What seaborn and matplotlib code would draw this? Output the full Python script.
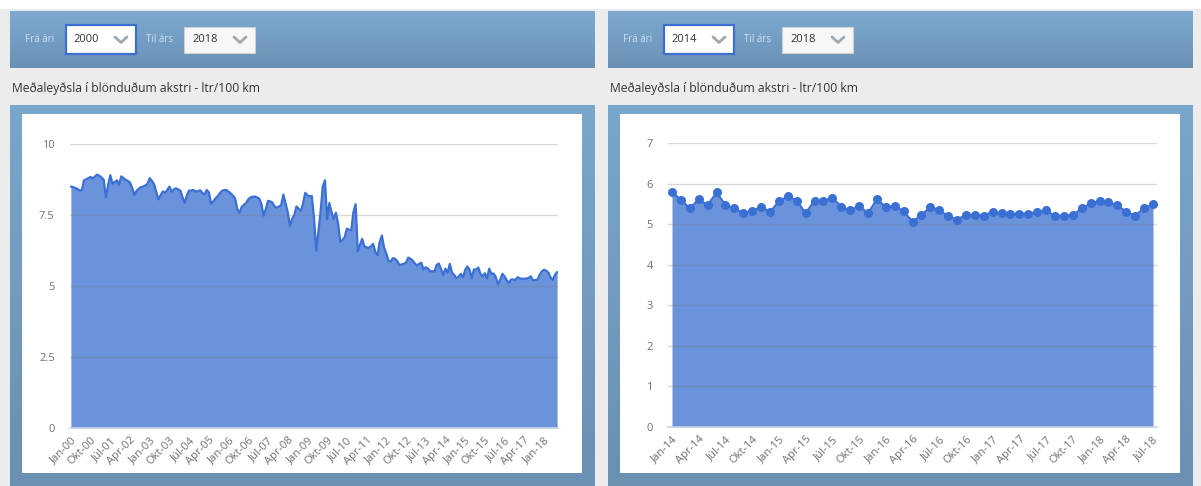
import numpy as np
import matplotlib
matplotlib.use("Agg")
import matplotlib.pyplot as plt
import seaborn as sns
from matplotlib.patches import Rectangle
from matplotlib.lines import Line2D
from matplotlib.colors import LinearSegmentedColormap

# Meðaleyðsla (ltr/100 km), monthly, Jan 2000 - Des 2013
vals_2000_2013 = [
    8.50, 8.48, 8.45, 8.42, 8.36, 8.38, 8.72, 8.76, 8.80, 8.84, 8.78, 8.86,
    8.92, 8.88, 8.82, 8.74, 8.12, 8.55, 8.90, 8.60, 8.66, 8.72, 8.56, 8.86,
    8.80, 8.74, 8.70, 8.64, 8.45, 8.20, 8.36, 8.42, 8.48, 8.50, 8.54, 8.60,
    8.80, 8.70, 8.58, 8.30, 8.05, 8.20, 8.33, 8.28, 8.38, 8.50, 8.32, 8.40,
    8.44, 8.40, 8.36, 8.12, 7.92, 8.20, 8.36, 8.36, 8.38, 8.32, 8.34, 8.37,
    8.28, 8.22, 8.38, 8.30, 7.90, 7.98, 8.08, 8.16, 8.26, 8.35, 8.38, 8.38,
    8.32, 8.26, 8.18, 8.08, 7.70, 7.58, 7.78, 7.86, 7.92, 8.05, 8.12, 8.14,
    8.15, 8.12, 8.08, 7.88, 7.48, 7.70, 8.00, 7.98, 7.94, 7.80, 7.76, 7.80,
    7.84, 8.22, 7.92, 7.60, 7.12, 7.35, 7.50, 7.80, 7.72, 7.64, 7.90, 8.28,
    8.20, 8.15, 8.17, 7.40, 6.25, 6.90, 7.60, 8.50, 8.72, 7.35, 7.92, 7.60,
    7.36, 7.58, 7.20, 6.55, 6.62, 6.72, 7.02, 6.98, 6.96, 7.60, 7.88, 6.22,
    6.45, 6.66, 6.40, 6.36, 6.34, 6.40, 6.48, 6.20, 6.08, 6.55, 6.78, 6.35,
    6.15, 5.88, 5.86, 5.98, 5.96, 5.88, 5.74, 5.76, 5.78, 5.82, 6.00, 5.96,
    5.90, 5.80, 5.72, 5.78, 5.82, 5.58, 5.66, 5.62, 5.52, 5.52, 5.50, 5.74,
]
# Jan 2014 - Júl 2018
vals_2014_2018 = [
    5.79, 5.60, 5.39, 5.61, 5.47, 5.78, 5.47, 5.39, 5.28, 5.32, 5.43, 5.30,
    5.56, 5.69, 5.58, 5.27, 5.58, 5.58, 5.65, 5.43, 5.34, 5.45, 5.27, 5.61,
    5.43, 5.44, 5.32, 5.06, 5.22, 5.43, 5.34, 5.20, 5.11, 5.23, 5.23, 5.21,
    5.31, 5.27, 5.25, 5.26, 5.26, 5.29, 5.34, 5.20, 5.21, 5.22, 5.39, 5.51,
    5.57, 5.54, 5.47, 5.30, 5.21, 5.39, 5.49,
]

labels_left = ["Jan-00", "Okt-00", "Júl-01", "Apr-02", "Jan-03", "Okt-03", "Júl-04",
               "Apr-05", "Jan-06", "Okt-06", "Júl-07", "Apr-08", "Jan-09", "Okt-09",
               "Júl-10", "Apr-11", "Jan-12", "Okt-12", "Júl-13", "Apr-14", "Jan-15",
               "Okt-15", "Júl-16", "Apr-17", "Jan-18"]
labels_right = ["Jan-14", "Apr-14", "Júl-14", "Okt-14", "Jan-15", "Apr-15", "Júl-15",
                "Okt-15", "Jan-16", "Apr-16", "Júl-16", "Okt-16", "Jan-17", "Apr-17",
                "Júl-17", "Okt-17", "Jan-18", "Apr-18", "Júl-18"]
yticks_left = [0, 2.5, 5, 7.5, 10]
yticks_right = [0, 1, 2, 3, 4, 5, 6, 7]
title = "Meðaleyðsla í blönduðum akstri - ltr/100 km"
year_from = ["2000", "2014"]
year_to = ["2018", "2018"]

W, H = 1201, 486
FILL = "#6a93db"
LINE = "#3a6fd4"

sns.set_theme(style="white")
plt.rcParams["font.family"] = ["Open Sans", "DejaVu Sans"]

fig = plt.figure(figsize=(W / 100, H / 100), dpi=100)
fig.patch.set_facecolor("#ececec")


def px(x0, y0, x1, y1):
    # pixel box (y down) -> figure rect
    return [x0 / W, 1 - y1 / H, (x1 - x0) / W, (y1 - y0) / H]


def rect(x0, y0, x1, y1, z=1, **kw):
    l, b, w, h = px(x0, y0, x1, y1)
    fig.add_artist(Rectangle((l, b), w, h, transform=fig.transFigure, zorder=z, **kw))


def gradient(x0, y0, x1, y1, top, bottom):
    ax = fig.add_axes(px(x0, y0, x1, y1), zorder=0)
    cmap = LinearSegmentedColormap.from_list("g", [top, bottom])
    ax.imshow(np.linspace(0, 1, 64).reshape(-1, 1), cmap=cmap, aspect="auto",
              extent=[0, 1, 0, 1])
    ax.axis("off")


def text(x, y, s, **kw):
    fig.text(x / W, 1 - y / H, s, va="center", zorder=5, **kw)


def chevron(cx, cy):
    xs = [(cx - 6) / W, cx / W, (cx + 6) / W]
    ys = [1 - (cy - 3) / H, 1 - (cy + 2.5) / H, 1 - (cy - 3) / H]
    fig.add_artist(Line2D(xs, ys, color="#a0a8b0", lw=2, zorder=5))


# white strip at the top of the page
rect(0, 0, W, 9, z=0.5, facecolor="white", edgecolor="none")

for i, off in enumerate([0, 598]):
    # header bar with year selectors
    gradient(10 + off, 11, 595 + off, 68, "#7eaad0", "#6991b6")
    text(25 + off, 40, "Frá ári", fontsize=7, color="#cde0f2")
    rect(66 + off, 25, 136 + off, 54, z=4, facecolor="white", edgecolor="#3e6fd0", lw=1.6)
    text(73 + off, 40, year_from[i], fontsize=8, color="#333333")
    chevron(121 + off, 40)
    text(146 + off, 40, "Til árs", fontsize=7, color="#cde0f2")
    rect(184 + off, 27, 255 + off, 53, z=4, facecolor="#f7f7f7", edgecolor="#d0d0d0", lw=0.8)
    text(192 + off, 40, year_to[i], fontsize=8, color="#333333")
    chevron(240 + off, 40)
    # title
    text(12 + off, 88, title, fontsize=8.7, color="#333333")
    # chart frame + white panel
    gradient(10 + off, 105, 595 + off, 486, "#79a6cb", "#6a90b3")
    rect(22 + off, 114, 582 + off, 473, z=1, facecolor="white", edgecolor="none")


def style_axes(ax, yticks, ylim):
    ax.set_facecolor("none")
    ax.set_ylim(*ylim)
    ax.set_yticks(yticks)
    ax.set_yticklabels([f"{t:g}" for t in yticks])
    ax.set_axisbelow(False)
    ax.yaxis.grid(True, color="#7f7f7f", alpha=0.3, lw=1)
    ax.xaxis.grid(False)
    for s in ["left", "right", "top"]:
        ax.spines[s].set_visible(False)
    ax.spines["bottom"].set_color("#ccd6eb")
    ax.tick_params(axis="both", length=0, labelsize=8, labelcolor="#707070")
    ax.tick_params(axis="y", pad=11)
    ax.tick_params(axis="x", pad=5)
    for lab in ax.get_xticklabels():
        lab.set_rotation(45)
        lab.set_ha("right")
        lab.set_rotation_mode("anchor")
    ax.set_xlabel("")
    ax.set_ylabel("")


# left chart: 2000-2018
vals_all = vals_2000_2013 + vals_2014_2018
x_all = np.arange(len(vals_all))
axL = fig.add_axes(px(70, 144, 558, 428), zorder=2)
axL.fill_between(x_all, vals_all, color=FILL, lw=0, zorder=1)
sns.lineplot(x=x_all, y=vals_all, ax=axL, color=LINE, linewidth=1.6, zorder=3)
axL.set_xlim(-0.4, len(vals_all) - 0.6)
axL.set_xticks(np.arange(0, len(vals_all), 9)[:len(labels_left)])
axL.set_xticklabels(labels_left)
style_axes(axL, yticks_left, (0, 10))

# right chart: 2014-2018
x_r = np.arange(len(vals_2014_2018))
axR = fig.add_axes(px(668, 143, 1157, 427), zorder=2)
axR.fill_between(x_r, vals_2014_2018, color=FILL, lw=0, zorder=1)
sns.lineplot(x=x_r, y=vals_2014_2018, ax=axR, color=LINE, linewidth=1.5,
             marker="o", markersize=6.5, markeredgewidth=0, zorder=3)
axR.set_xlim(-0.45, len(vals_2014_2018) - 0.55)
axR.set_xticks(np.arange(0, len(vals_2014_2018), 3))
axR.set_xticklabels(labels_right)
style_axes(axR, yticks_right, (0, 7))

fig.savefig("out.png", dpi=100, facecolor=fig.get_facecolor())
